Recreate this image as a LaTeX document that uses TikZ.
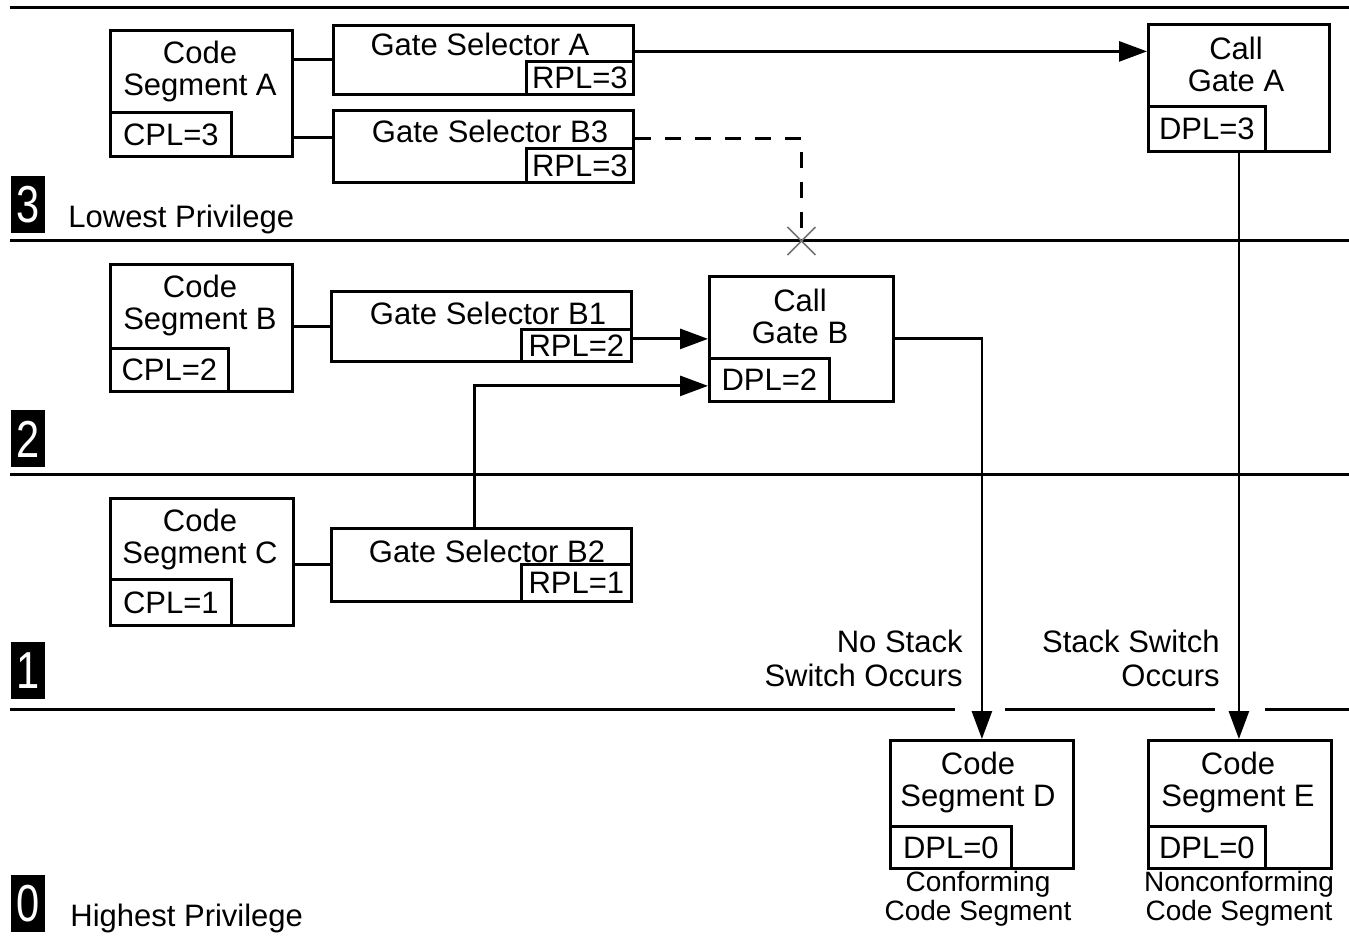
\documentclass[tikz,border=0pt]{standalone}
\usepackage{fontspec}
\setmainfont{Liberation Sans}
\usetikzlibrary{arrows.meta,calc}
\begin{document}
\begin{tikzpicture}[x=0.5pt,y=-0.5pt,
  box/.style={draw, line width=1.4pt, inner sep=0pt, anchor=north west, font=\fontsize{15.5}{16}\selectfont},
  txt/.style={font=\fontsize{15.5}{16}\selectfont, align=center, inner sep=0pt},
  small/.style={font=\fontsize{14}{14.5}\selectfont, align=center, inner sep=0pt},
  ln/.style={line width=1.5pt},
  arr/.style={line width=1.4pt, -{Triangle[length=14pt,width=10pt]}},
  lvl/.style={fill=black, text=white, font=\fontsize{26}{26}\selectfont, minimum width=17pt, minimum height=28.5pt, inner sep=0pt, anchor=north west},
  xmark/.style={draw=black!55, line width=0.8pt}]
\useasboundingbox (0,0) rectangle (1349,940);
% ring boundaries
\coordinate (t0) at (10,8);   \coordinate (t1) at (1349,8);
\coordinate (a0) at (10,241); \coordinate (a1) at (1349,241);
\coordinate (b0) at (10,475); \coordinate (b1) at (1349,475);
\coordinate (c0) at (10,709); \coordinate (c1) at (955,709);
\coordinate (c2) at (1005,709); \coordinate (c3) at (1215,709);
\coordinate (c4) at (1265,709); \coordinate (c5) at (1349,709);
\draw[ln] (t0) -- (t1);
\draw[ln] (a0) -- (a1);
\draw[ln] (b0) -- (b1);
\draw[ln] (c0) -- (c1);
\draw[ln] (c2) -- (c3);
\draw[ln] (c4) -- (c5);
% level labels
\node[lvl] (l3) at (11,176) {\scalebox{0.8}[1]{3}};
\node[lvl] (l2) at (11,410) {\scalebox{0.8}[1]{2}};
\node[lvl] (l1) at (11,642) {\scalebox{0.8}[1]{1}};
\node[lvl] (l0) at (11,875) {\scalebox{0.8}[1]{0}};
\node[txt, anchor=west] (low) at (68,219) {Lowest Privilege};
\node[txt, anchor=west] (high) at (70,918) {Highest Privilege};
% ring 3
\node[box, minimum width=91pt, minimum height=63pt] (csA) at (109,29) {};
\node[txt] (csAt) at (200,71) {Code\\Segment A};
\node[box, minimum width=60.5pt, minimum height=22pt] (cplA) at (109,111) {CPL=3};
\node[box, minimum width=150pt, minimum height=34.5pt] (gsA) at (332,24) {};
\node[txt] (gsAt) at (480,44) {Gate Selector A};
\node[box, minimum width=53.5pt, minimum height=16.5pt] (rplA) at (525,60) {RPL=3};
\node[box, minimum width=150pt, minimum height=36pt] (gsB3) at (332,109) {};
\node[txt] (gsB3t) at (490,131) {Gate Selector B3};
\node[box, minimum width=53.5pt, minimum height=17pt] (rplB3) at (525,147) {RPL=3};
\node[box, minimum width=90.5pt, minimum height=63.5pt] (cgA) at (1147,23) {};
\node[txt] (cgAt) at (1236,64) {Call\\Gate A};
\node[box, minimum width=58.5pt, minimum height=22.5pt] (dplA) at (1147,105) {DPL=3};
% ring 2
\node[box, minimum width=91pt, minimum height=63.5pt] (csB) at (109,263) {};
\node[txt] (csBt) at (200,305) {Code\\Segment B};
\node[box, minimum width=59pt, minimum height=21.5pt] (cplB) at (109,347) {CPL=2};
\node[box, minimum width=150pt, minimum height=35pt] (gsB1) at (330,290) {};
\node[txt] (gsB1t) at (488,313) {Gate Selector B1};
\node[box, minimum width=55pt, minimum height=16pt] (rplB1) at (520,328) {RPL=2};
\node[box, minimum width=92pt, minimum height=62.5pt] (cgB) at (708,275) {};
\node[txt] (cgBt) at (800,316) {Call\\Gate B};
\node[box, minimum width=60pt, minimum height=21.5pt] (dplB) at (708,357) {DPL=2};
% ring 1
\node[box, minimum width=91.5pt, minimum height=63.5pt] (csC) at (109,497) {};
\node[txt] (csCt) at (200,539) {Code\\Segment C};
\node[box, minimum width=60.5pt, minimum height=23pt] (cplC) at (109,578) {CPL=1};
\node[box, minimum width=150pt, minimum height=36.5pt] (gsB2) at (330,527) {};
\node[txt] (gsB2t) at (487,551) {Gate Selector B2};
\node[box, minimum width=55pt, minimum height=18.5pt] (rplB2) at (520,563) {RPL=1};
% ring 0
\node[box, minimum width=91.5pt, minimum height=64pt] (csD) at (889,739) {};
\node[txt] (csDt) at (978,782) {Code\\Segment D};
\node[box, minimum width=60.5pt, minimum height=21pt] (dplD) at (889,825) {DPL=0};
\node[box, minimum width=91.5pt, minimum height=64pt] (csE) at (1147,739) {};
\node[txt] (csEt) at (1238,782) {Code\\Segment E};
\node[box, minimum width=58.5pt, minimum height=21pt] (dplE) at (1147,825) {DPL=0};
\node[small] (confD) at (978,899) {Conforming\\Code Segment};
\node[small] (confE) at (1239,899) {Nonconforming\\Code Segment};
% switch notes
\node[txt, align=right, anchor=east, font=\fontsize{15.5}{17}\selectfont] (nss) at (963,658) {No Stack\\Switch Occurs};
\node[txt, align=right, anchor=east, font=\fontsize{15.5}{17}\selectfont] (ss) at (1220,658) {Stack Switch\\Occurs};
% connectors
\draw[ln] (csA.east |- gsA.west) -- (gsA.west);
\coordinate (sB3) at ([yshift=4.5pt]gsB3.west);
\draw[ln] (csA.east |- sB3) -- (sB3);
\coordinate (sA) at ([yshift=4.25pt]gsA.east);
\draw[arr] (sA) -- (sA -| cgA.west);
\draw[arr] (cgA.south) -- (cgA.south |- csE.north);
\coordinate (dB3) at ([yshift=4pt]gsB3.east);
\coordinate (xm) at (cgB.north |- a0);
\draw[ln, dash pattern=on 8pt off 7pt] (dB3) -- (dB3 -| cgB.north) -- ([yshift=6pt]xm);
\draw[xmark] ([xshift=-7pt,yshift=-7pt]xm) -- ([xshift=7pt,yshift=7pt]xm);
\draw[xmark] ([xshift=-7pt,yshift=7pt]xm) -- ([xshift=7pt,yshift=-7pt]xm);
\draw[ln] (csB.east |- gsB1.west) -- (gsB1.west);
\draw[arr] (rplB1.east |- cgB.west) -- (cgB.west);
\coordinate (eB2) at ([yshift=-3pt]dplB.west);
\draw[arr] ([xshift=-3.5pt]gsB2.north) |- (eB2);
\draw[ln] (csC.east |- gsB2.west) -- (gsB2.west);
\draw[arr] (cgB.east) -| (csD.north);
\end{tikzpicture}
\end{document}
